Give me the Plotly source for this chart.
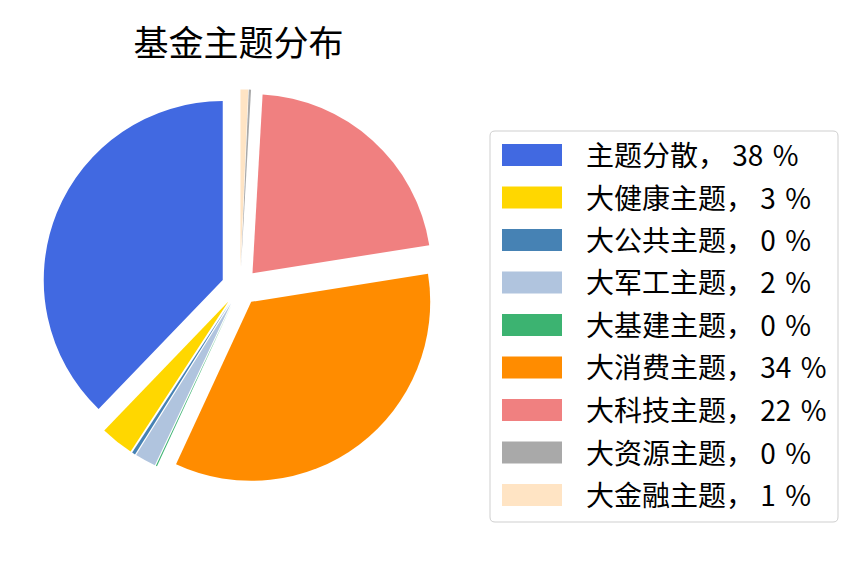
import plotly.graph_objects as go

# fund theme distribution
themes = ["主题分散", "大健康主题", "大公共主题", "大军工主题", "大基建主题",
          "大消费主题", "大科技主题", "大资源主题", "大金融主题"]
shares = [37.8, 3.0, 0.3, 1.9, 0.1, 34.4, 21.6, 0.2, 0.7]
colors = ["#4169E1", "#FFD700", "#4682B4", "#B0C4DE", "#3CB371",
          "#FF8C00", "#F08080", "#A9A9A9", "#FFE4C4"]

title_text = "基金主题分布"
legend_labels = [f"{t}， {round(s)}\u2004%" for t, s in zip(themes, shares)]

# page body has an 8px margin, so the figure is a bit smaller than the window
OFF = 8
W, H = 864 - 2 * OFF, 576 - 2 * OFF
font_cjk = "Noto Sans CJK SC, Noto Sans, sans-serif"


def px_x(v):
    # window pixel -> paper x
    return (v - OFF) / W


def px_y(v):
    # window pixel (from top) -> paper y
    return 1 - (v - OFF) / H


# plotly's counterclockwise pies end the first slice at `rotation`,
# so shift it back so the first slice starts at 12 o'clock
first_angle = shares[0] / sum(shares) * 360

fig = go.Figure()
fig.add_trace(go.Pie(
    labels=themes,
    values=shares,
    marker=dict(colors=colors, line=dict(width=0)),
    sort=False,
    direction="counterclockwise",
    rotation=-first_angle,
    pull=0.104,
    textinfo="none",
    showlegend=False,
    domain=dict(x=[px_x(42.4), px_x(437.6)], y=[px_y(484.6), px_y(89.4)]),
))

# legend drawn by hand so the swatches are wide bars like the original
shapes = []
annotations = []
bx0, bx1, by0, by1 = 490, 838, 131, 522
r = 5
box_path = (
    f"M {px_x(bx0 + r)},{px_y(by0)} L {px_x(bx1 - r)},{px_y(by0)} "
    f"Q {px_x(bx1)},{px_y(by0)} {px_x(bx1)},{px_y(by0 + r)} "
    f"L {px_x(bx1)},{px_y(by1 - r)} "
    f"Q {px_x(bx1)},{px_y(by1)} {px_x(bx1 - r)},{px_y(by1)} "
    f"L {px_x(bx0 + r)},{px_y(by1)} "
    f"Q {px_x(bx0)},{px_y(by1)} {px_x(bx0)},{px_y(by1 - r)} "
    f"L {px_x(bx0)},{px_y(by0 + r)} "
    f"Q {px_x(bx0)},{px_y(by0)} {px_x(bx0 + r)},{px_y(by0)} Z"
)
shapes.append(dict(type="path", xref="paper", yref="paper", path=box_path,
                   line=dict(color="#cfcfcf", width=1), fillcolor="white"))

row0, row_step = 155, 42.5
for i, (lab, col) in enumerate(zip(legend_labels, colors)):
    cy = row0 + row_step * i
    shapes.append(dict(type="rect", xref="paper", yref="paper",
                       x0=px_x(502), x1=px_x(562), y0=px_y(cy + 11), y1=px_y(cy - 11),
                       fillcolor=col, line=dict(width=0)))
    annotations.append(dict(text=lab, xref="paper", yref="paper",
                            x=px_x(584), y=px_y(cy - 1), xanchor="left", yanchor="middle",
                            showarrow=False, font=dict(size=28, color="black", family=font_cjk)))

fig.update_layout(
    width=W, height=H,
    margin=dict(l=0, r=0, t=0, b=0),
    paper_bgcolor="white",
    plot_bgcolor="white",
    title=dict(text=title_text, x=px_x(238.5), y=px_y(44), xanchor="center", yanchor="middle",
               font=dict(size=35, color="black", family=font_cjk)),
    shapes=shapes,
    annotations=annotations,
)

fig.write_html("out.html")
